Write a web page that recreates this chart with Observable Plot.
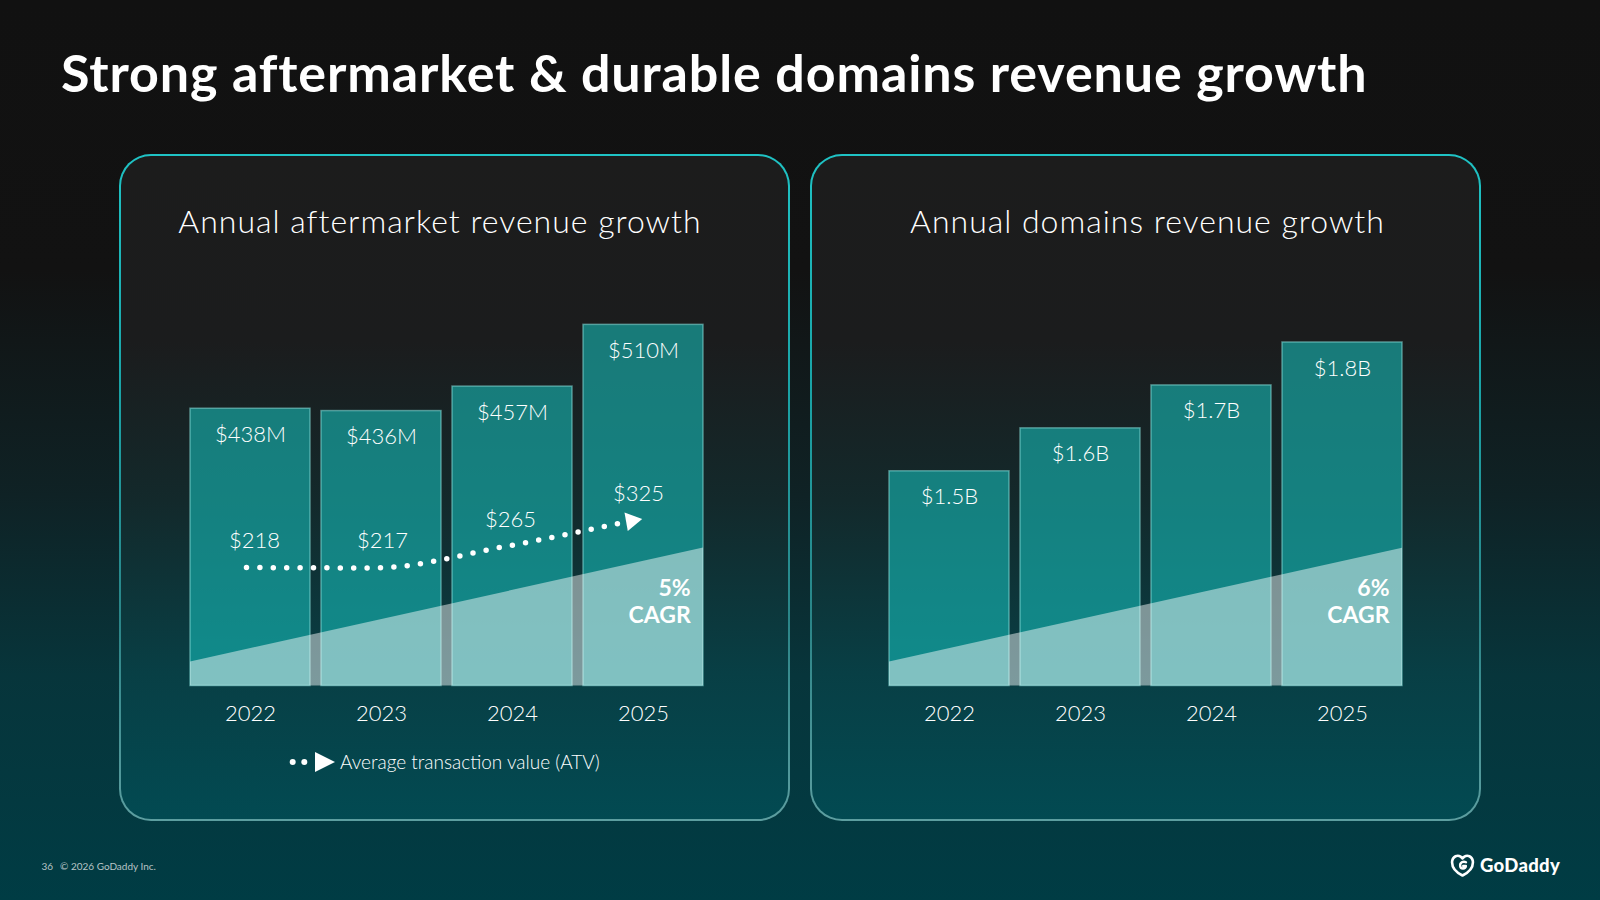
<!DOCTYPE html>
<html>
<head>
<meta charset="utf-8">
<script src="https://cdn.jsdelivr.net/npm/d3@7"></script>
<script src="https://cdn.jsdelivr.net/npm/@observablehq/plot@0.6"></script>
<style>
  html, body { margin: 0; padding: 0; }
  body {
    width: 1600px; height: 900px; overflow: hidden; position: relative;
    font-family: Lato, "Noto Sans", sans-serif; color: #fff;
    background: linear-gradient(180deg, #111111 0%, #121212 30%, #0f2225 55%, #07353b 75%, #003c44 100%);
  }
  .title { position: absolute; left: 61px; top: 45.6px; font-size: 52px; font-weight: 700; line-height: 1; letter-spacing: 0.9px; white-space: nowrap; }
  .panel {
    position: absolute; top: 154px; width: 671px; height: 667px; box-sizing: border-box;
    border-radius: 32px; border: 2px solid transparent;
    background:
      linear-gradient(180deg, #1c1c1c 0%, #1b1c1d 28%, #13292b 52%, #083f45 78%, #024a52 100%) padding-box,
      linear-gradient(180deg, #1fc3c5 0%, #1aa3a6 35%, #2b8588 70%, #5d9ea0 100%) border-box;
  }
  .panel-title { position: absolute; top: 205.4px; width: 640px; text-align: center; font-size: 32px; font-weight: 300; line-height: 1; letter-spacing: 1px; white-space: nowrap; }
  .chart { position: absolute; top: 154px; width: 671px; height: 667px; }
  .chart svg { position: absolute; left: 0; top: 0; overflow: visible; }
  .legend-key { position: absolute; left: 289px; top: 751.7px; }
  .legend-text { position: absolute; left: 340px; top: 751.6px; font-size: 19px; font-weight: 300; line-height: 1; white-space: nowrap; }
  .footer { position: absolute; top: 860.5px; font-size: 10px; line-height: 1; color: #b7c4c6; white-space: nowrap; }
  .brand { position: absolute; left: 1450px; top: 854px; }
  .brand-name { position: absolute; left: 1480px; top: 855.5px; font-size: 18.5px; font-weight: 900; line-height: 1; letter-spacing: 0.3px; }
</style>
</head>
<body>
<div class="title">Strong aftermarket &amp; durable domains revenue growth</div>

<div class="panel" style="left:119px"></div>
<div class="panel" style="left:810px"></div>

<div class="panel-title" style="left:120px">Annual aftermarket revenue growth</div>
<div class="panel-title" style="left:827.5px">Annual domains revenue growth</div>

<div class="chart" id="aftermarket" style="left:119px"></div>
<div class="chart" id="domains" style="left:810px"></div>

<svg class="legend-key" width="50" height="20" viewBox="0 0 50 20">
  <circle cx="3.7" cy="10" r="3" fill="#fff"/>
  <circle cx="15.3" cy="10" r="3" fill="#fff"/>
  <path d="M26 0 L46 10 L26 20 Z" fill="#fff"/>
</svg>
<div class="legend-text">Average transaction value (ATV)</div>

<div class="footer" style="left:41.5px">36</div>
<div class="footer" style="left:60px">© 2026 GoDaddy Inc.</div>

<svg class="brand" width="26" height="24" viewBox="0 0 26 24">
  <path d="M12.5 21.5 C4.5 17.5 1.5 12 2.2 6.8 C3 2.2 7.5 0.6 10.6 2.6 C11.6 3.3 12.5 4.4 12.5 4.4 C12.5 4.4 13.4 3.3 14.4 2.6 C17.5 0.6 22 2.2 22.8 6.8 C23.5 12 20.5 17.5 12.5 21.5 Z" fill="none" stroke="#fff" stroke-width="2.6" stroke-linejoin="round"/>
  <path d="M16 8.2 C13.2 6.8 9.6 8.6 10.2 12.2 C10.8 15.4 15.4 15.2 15.9 12 L13.2 12" fill="none" stroke="#fff" stroke-width="2.4" stroke-linecap="round" stroke-linejoin="round"/>
</svg>
<div class="brand-name">GoDaddy</div>

<script>
// Fiscal years shown on both panels
const years = ["2022", "2023", "2024", "2025"];

// Annual aftermarket revenue, $M
const aftermarketRevenue = [438, 436, 457, 510];
// Average transaction value (ATV), $
const averageTransactionValue = [218, 217, 265, 325];
// Annual domains revenue, $B
const domainsRevenue = [1.5, 1.6, 1.7, 1.8];

// Compound annual growth rates
const aftermarketCagr = "5%";
const domainsCagr = "6%";

// Growth band drawn behind the labels (start, end) in each panel's units
const aftermarketTrend = [220.7, 318.4];
const domainsTrend = [1.056, 1.321];

const textStyle = {
  background: "transparent",
  color: "#fff",
  fontFamily: "Lato, 'Noto Sans', sans-serif",
  fontWeight: 300,
  overflow: "visible"
};

// Translucent rising wedge spanning all bars, from the baseline up to the trend line
function trendWedge(trend) {
  return (index, scales, values, dimensions) => {
    const {x, y} = scales;
    const {width, height, marginLeft, marginRight, marginBottom} = dimensions;
    const x0 = x && x.bandwidth ? x(years[0]) : marginLeft;
    const x1 = x && x.bandwidth ? x(years[years.length - 1]) + x.bandwidth() : width - marginRight;
    const yb = height - marginBottom;
    const path = d3.path();
    path.moveTo(x0, yb);
    path.lineTo(x0, y(trend[0]));
    path.lineTo(x1, y(trend[1]));
    path.lineTo(x1, yb);
    path.closePath();
    return d3.create("svg:path")
      .attr("d", path.toString())
      .attr("fill", "#fff")
      .attr("fill-opacity", 0.47)
      .node();
  };
}

function revenuePlot({values, domain, marginTop, marginLeft, marginRight, format, trend, cagr}) {
  const data = years.map((year, i) => ({year, value: values[i]}));
  return Plot.plot({
    width: 671,
    height: 667,
    marginTop,
    marginBottom: 135.5,
    marginLeft,
    marginRight,
    style: textStyle,
    x: {domain: years, paddingInner: 0.085, paddingOuter: 0, label: null},
    y: {domain, axis: null},
    marks: [
      Plot.barY(data, {
        x: "year", y1: domain[0], y2: "value",
        fill: "#17c6c3", fillOpacity: 0.56,
        stroke: "#86dcd8", strokeOpacity: 0.55, strokeWidth: 1.5
      }),
      trendWedge(trend),
      Plot.text(data, {
        x: "year", y: "value", text: (d) => format(d.value),
        dy: 26, fontSize: 22, fill: "#fff"
      }),
      Plot.text([cagr], {
        frameAnchor: "bottom-right", text: (d) => `${d}\nCAGR`,
        textAnchor: "end", lineAnchor: "middle", lineHeight: 1.2,
        dx: -13.5, dy: -85.5, fontSize: 23, fontWeight: 700, fill: "#fff"
      }),
      Plot.axisX({tickSize: 0, tickPadding: 19, fontSize: 22, label: null})
    ]
  });
}

// ATV overlay: its own y scale, sharing the band x scale of the bars
function atvPlot() {
  const data = years.map((year, i) => ({year, value: averageTransactionValue[i]}));
  return Plot.plot({
    width: 671,
    height: 667,
    marginTop: 333.65,
    marginBottom: 158.95,
    marginLeft: 69.3,
    marginRight: 86.3,
    style: textStyle,
    x: {domain: years, paddingInner: 0.085, paddingOuter: 0, axis: null},
    y: {domain: [0, 400], axis: null},
    marks: [
      Plot.line(data, {
        x: "year", y: "value", curve: "monotone-x", dx: -8,
        stroke: "#fff", strokeWidth: 5.5, strokeLinecap: "round", strokeDasharray: "0 13.4"
      }),
      Plot.dot(data.slice(-1), {
        x: "year", y: "value", symbol: "triangle", r: 7, rotate: 80, dx: -7,
        fill: "#fff", stroke: null
      }),
      Plot.text(data, {
        x: "year", y: "value", text: (d) => `$${d.value}`,
        dy: -27, fontSize: 22, fill: "#fff"
      })
    ]
  });
}

const left = document.getElementById("aftermarket");
left.append(revenuePlot({
  values: aftermarketRevenue,
  domain: [200, 600],
  marginTop: 65.5,
  marginLeft: 69.3,
  marginRight: 86.3,
  format: (v) => `$${v}M`,
  trend: aftermarketTrend,
  cagr: aftermarketCagr
}));
left.append(atvPlot());

document.getElementById("domains").append(revenuePlot({
  values: domainsRevenue,
  domain: [1, 2],
  marginTop: 102.1,
  marginLeft: 78,
  marginRight: 78.5,
  format: (v) => `$${v.toFixed(1)}B`,
  trend: domainsTrend,
  cagr: domainsCagr
}));
</script>
</body>
</html>
